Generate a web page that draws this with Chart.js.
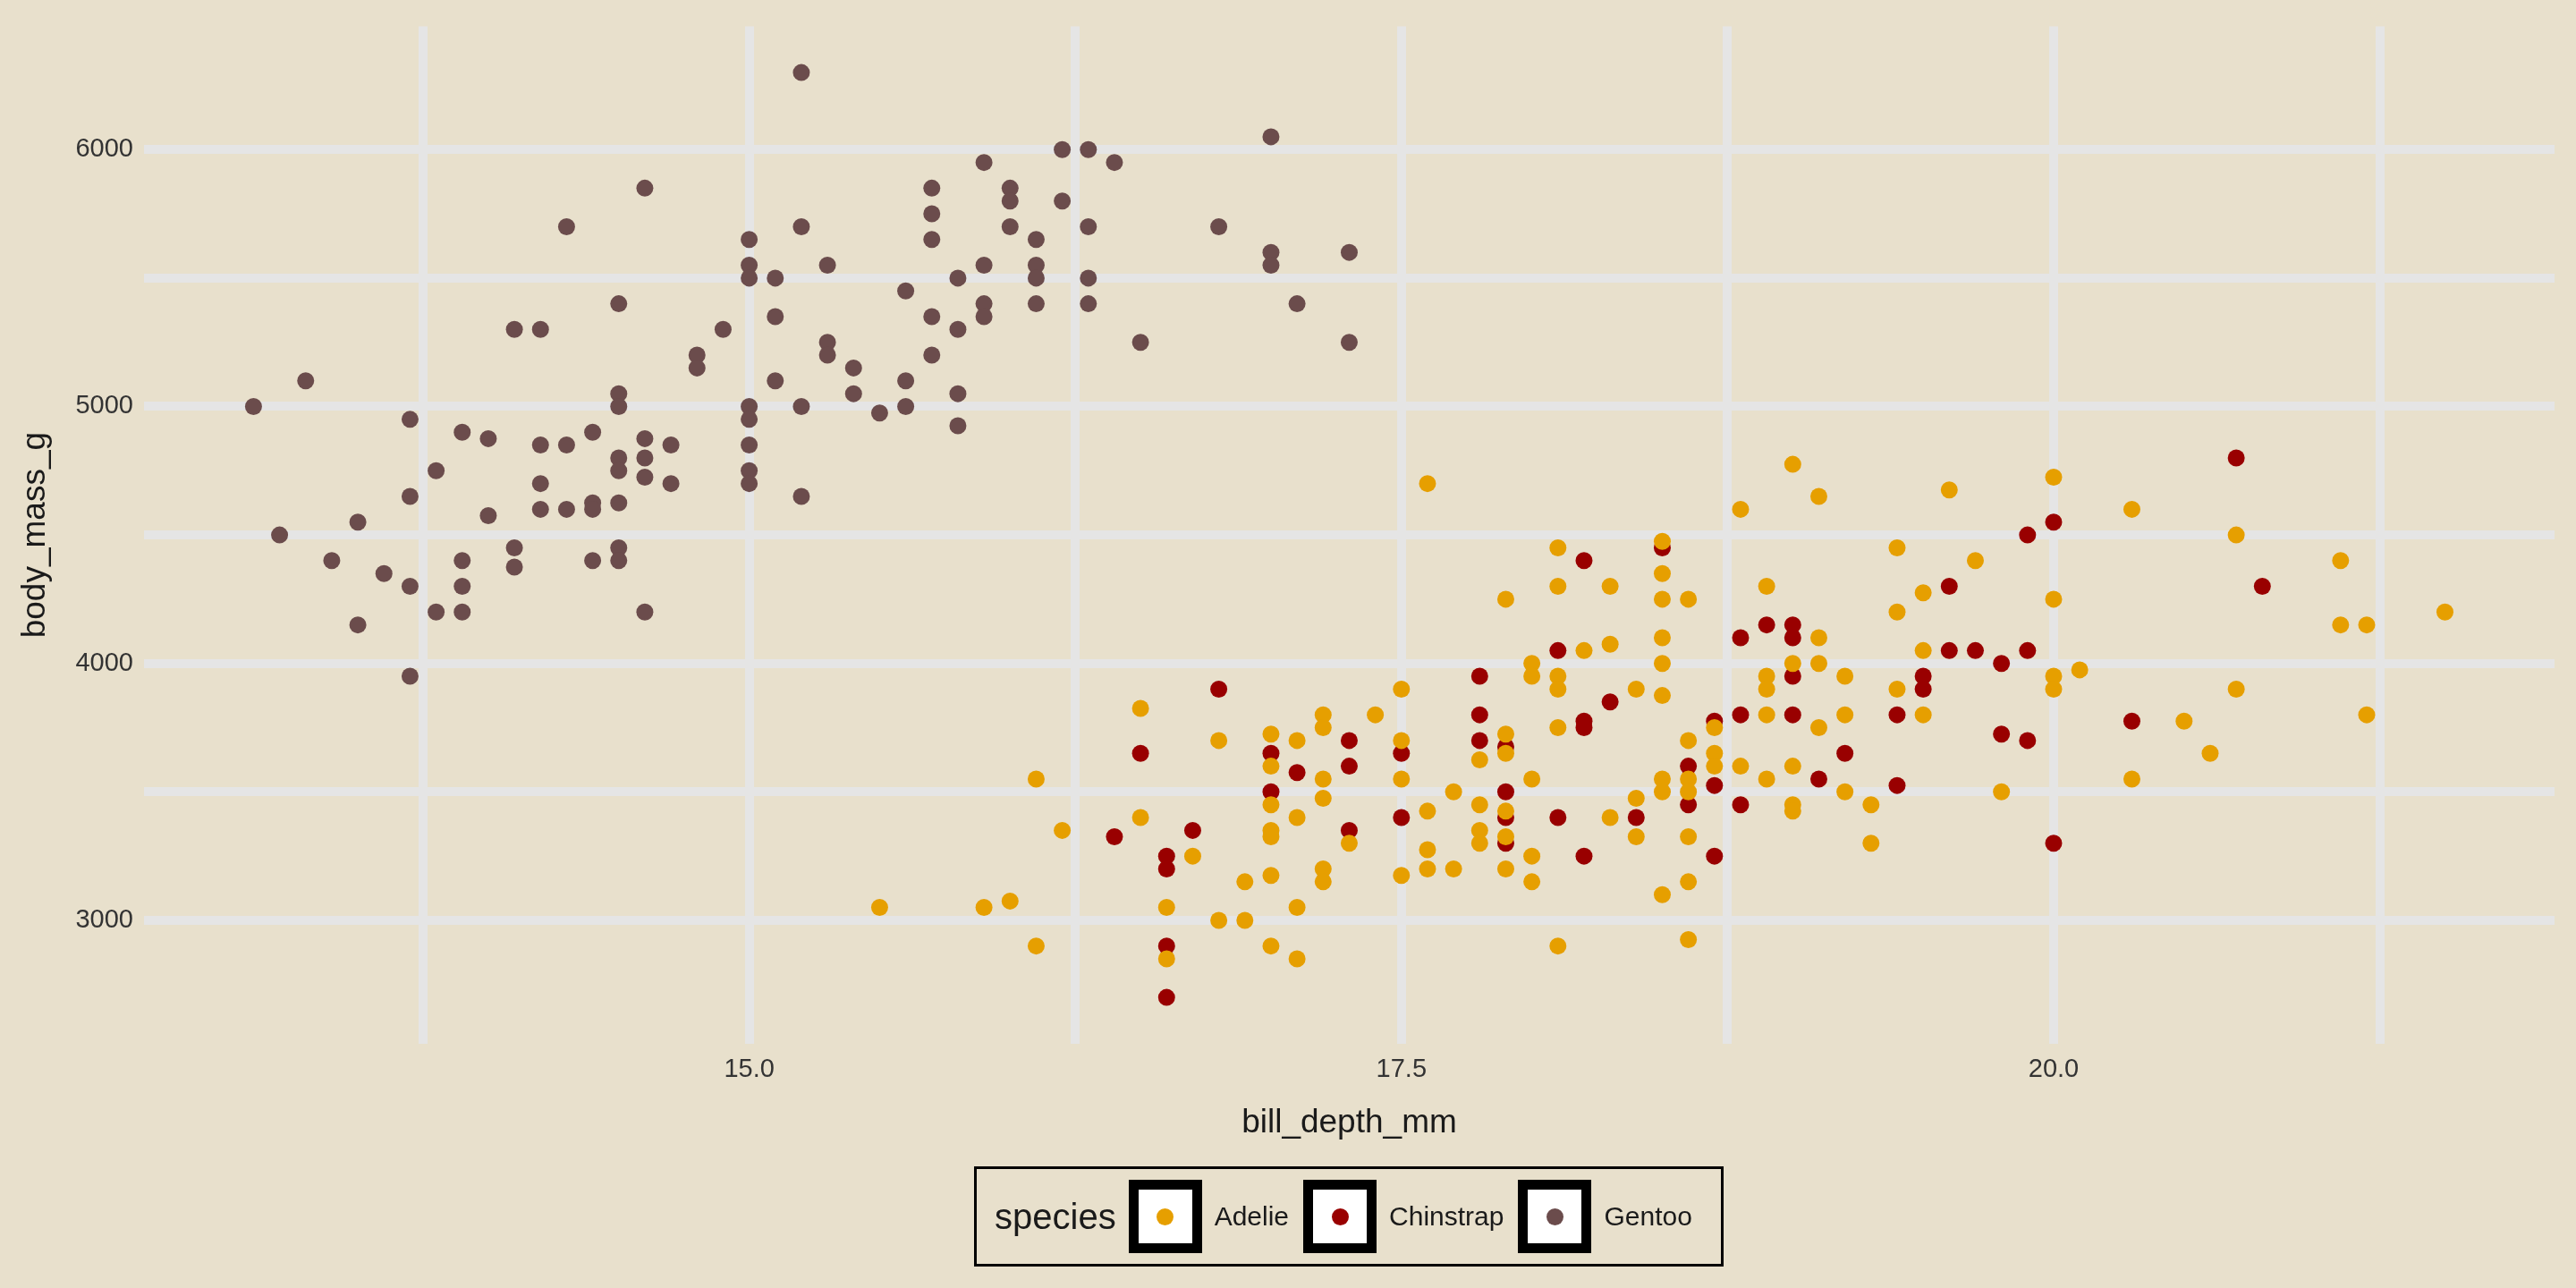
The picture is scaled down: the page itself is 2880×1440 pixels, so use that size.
<!DOCTYPE html>
<html lang="en">
  <head>
    <meta charset="utf-8" />
    <title>bill_depth_mm vs body_mass_g</title>
    <script src="https://cdn.jsdelivr.net/npm/chart.js/dist/chart.umd.min.js"></script>
    <style>
      * { margin: 0; padding: 0; font-family: "Liberation Sans", Arial, sans-serif; }
      body { background: #e8e0cc; }
      .chartBox { position: relative; width: 2880px; height: 1440px; }
      .legend {
        position: absolute; left: 1089px; top: 1304px; width: 838px; height: 112px;
        border: 3px solid #000; display: flex; align-items: center; box-sizing: border-box;
        padding-left: 20px; color: #1a1a1a;
      }
      .legend .title { font-size: 40px; margin-right: 14px; }
      .legend .key {
        width: 60px; height: 60px; border: 11px solid #000; background: #fff;
        display: flex; align-items: center; justify-content: center; margin-right: 14px;
      }
      .legend .dot { width: 19px; height: 19px; border-radius: 50%; }
      .legend .lab { font-size: 30px; margin-right: 16px; }
    </style>
  </head>
  <body>
    <div class="chartBox">
      <canvas id="myChart"></canvas>
      <div class="legend" id="legend"><span class="title">species</span></div>
    </div>

    <script>
      const species = ["Adelie", "Chinstrap", "Gentoo"];
      const colors = ["#e69f00", "#990000", "#6b4c4c"];
      const xTicks = [13.75, 15, 16.25, 17.5, 18.75, 20, 21.25];
      const xLabels = [15, 17.5, 20];
      const yTicks = [3000, 3500, 4000, 4500, 5000, 5500, 6000];
      const yLabels = [3000, 4000, 5000, 6000];

      const adelieDepth = [15.5,15.9,16.0,16.1,16.1,16.2,16.5,16.5,16.6,16.6,16.7,16.8,16.8,16.9,16.9,
        17.0,17.0,17.0,17.0,17.0,17.0,17.0,17.1,17.1,17.1,17.1,17.2,17.2,17.2,17.2,17.2,17.2,17.3,17.4,
        17.5,17.5,17.5,17.5,17.6,17.6,17.6,17.6,17.7,17.7,17.8,17.8,17.8,17.8,
        17.9,17.9,17.9,17.9,17.9,17.9,18.0,18.0,18.0,18.0,18.0,18.1,18.1,18.1,18.1,18.1,18.1,18.2,
        18.3,18.3,18.3,18.4,18.4,18.4,18.5,18.5,18.5,18.5,18.5,18.5,18.5,18.5,18.5,
        18.6,18.6,18.6,18.6,18.6,18.6,18.6,18.7,18.7,18.7,18.8,18.8,18.9,18.9,18.9,18.9,18.9,
        19.0,19.0,19.0,19.0,19.0,19.1,19.1,19.1,19.1,19.2,19.2,19.2,19.3,19.3,19.4,19.4,19.4,
        19.5,19.5,19.5,19.6,19.7,19.8,20.0,20.0,20.0,20.0,20.1,20.3,20.3,20.5,20.6,20.7,20.7,
        21.1,21.1,21.2,21.2,21.5];
      const adelieMass = [3050,3050,3075,3550,2900,3350,3825,3400,3050,2850,3250,3700,3000,3150,3000,
        3725,3600,3450,3350,3325,3175,2900,3700,3400,3050,2850,3800,3750,3550,3475,3200,3150,3300,3800,
        3900,3700,3550,3175,4700,3425,3275,3200,3500,3200,3625,3450,3350,3300,
        4250,3725,3650,3425,3325,3200,4000,3950,3550,3250,3150,4450,4300,3950,3900,3750,2900,4050,
        4300,4075,3400,3900,3475,3325,4475,4350,4250,4100,4000,3875,3550,3500,3100,
        4250,3700,3550,3500,3325,3150,2925,3750,3650,3600,4600,3600,4300,3950,3900,3800,3550,
        4775,4000,3600,3450,3425,4650,4100,4000,3750,3950,3800,3500,3450,3300,4450,4200,3900,
        4275,4050,3800,4675,4400,3500,4725,4250,3950,3900,3975,4600,3550,3775,3650,4500,3900,
        4400,4150,4150,3800,4200];

      const chinstrapDepth = [16.4,16.5,16.6,16.6,16.6,16.6,16.7,16.8,17.0,17.0,17.1,17.3,17.3,17.3,
        17.5,17.5,17.8,17.8,17.8,17.9,17.9,17.9,17.9,18.1,18.1,18.2,18.2,18.2,18.2,18.3,18.4,18.5,
        18.6,18.6,18.7,18.7,18.7,18.8,18.8,18.8,18.9,19.0,19.0,19.0,19.0,19.1,19.2,19.4,19.4,
        19.5,19.5,19.6,19.6,19.7,19.8,19.8,19.9,19.9,19.9,20.0,20.0,20.3,20.7,20.8];
      const chinstrapMass = [3325,3650,3250,3200,2900,2700,3350,3900,3650,3500,3575,3700,3600,3350,
        3650,3400,3950,3800,3700,3675,3500,3400,3300,4050,3400,4400,3775,3750,3250,3850,3400,4450,
        3600,3450,3775,3525,3250,4100,3800,3450,4150,4150,4100,3950,3800,3550,3650,3800,3525,
        3950,3900,4050,4300,4050,4000,3725,4500,4050,3700,4550,3300,3775,4800,4300];

      const gentooDepth = [13.1,13.2,13.3,13.4,13.5,13.5,13.6,13.7,13.7,13.7,13.7,13.8,13.8,
        13.9,13.9,13.9,13.9,14.0,14.0,14.1,14.1,14.1,14.2,14.2,14.2,14.2,14.3,14.3,14.3,
        14.4,14.4,14.4,14.4,14.5,14.5,14.5,14.5,14.5,14.5,14.5,14.5,14.6,14.6,14.6,14.6,14.6,
        14.7,14.7,14.8,14.8,14.9,15.0,15.0,15.0,15.0,15.0,15.0,15.0,15.0,15.1,15.1,15.1,
        15.2,15.2,15.2,15.2,15.3,15.3,15.3,15.4,15.4,15.5,15.6,15.6,15.6,15.7,15.7,15.7,15.7,15.7,
        15.8,15.8,15.8,15.8,15.9,15.9,15.9,15.9,16.0,16.0,16.0,16.1,16.1,16.1,16.1,16.2,16.2,
        16.3,16.3,16.3,16.3,16.4,16.5,16.8,17.0,17.0,17.0,17.1,17.3,17.3];
      const gentooMass = [5000,4500,5100,4400,4550,4150,4350,4950,4650,4300,3950,4200,4750,
        4900,4400,4300,4200,4875,4575,5300,4450,4375,5300,4850,4700,4600,5700,4850,4600,
        4900,4625,4600,4400,5400,5050,5000,4800,4750,4625,4450,4400,5850,4875,4800,4725,4200,
        4850,4700,5200,5150,5300,5650,5550,5500,5000,4950,4850,4750,4700,5500,5350,5100,
        6300,5700,5000,4650,5550,5250,5200,5150,5050,4975,5450,5100,5000,5850,5750,5650,5350,5200,
        5500,5300,5050,4925,5950,5550,5400,5350,5850,5800,5700,5650,5550,5500,5400,6000,5800,
        6000,5700,5500,5400,5950,5250,5700,6050,5600,5550,5400,5600,5250];

      const toPoints = (xs, ys) => xs.map((x, i) => ({ x: x, y: ys[i] }));
      const series = [
        toPoints(adelieDepth, adelieMass),
        toPoints(chinstrapDepth, chinstrapMass),
        toPoints(gentooDepth, gentooMass),
      ];

      const bgPlugin = {
        id: "bg",
        beforeDraw: function (chart) {
          const ctx = chart.ctx;
          ctx.save();
          ctx.fillStyle = "#e8e0cc";
          ctx.fillRect(0, 0, chart.width, chart.height);
          ctx.restore();
        },
      };

      const config = {
        type: "scatter",
        data: {
          datasets: species.map((s, i) => ({
            label: s,
            data: series[i],
            backgroundColor: colors[i],
            borderWidth: 0,
            pointRadius: 9.5,
          })),
        },
        options: {
          responsive: true,
          maintainAspectRatio: false,
          animation: false,
          layout: { padding: { top: 18, right: 24, bottom: 158, left: 14 } },
          plugins: { legend: { display: false }, tooltip: { enabled: false } },
          scales: {
            x: {
              min: 12.68,
              max: 21.92,
              afterBuildTicks: (axis) => { axis.ticks = xTicks.map((v) => ({ value: v })); },
              ticks: {
                color: "#333333",
                font: { size: 29 },
                padding: 12,
                autoSkip: false,
                maxRotation: 0,
                callback: (v) => (xLabels.includes(v) ? v.toFixed(1) : ""),
              },
              grid: { color: "#e5e5e5", lineWidth: 10, drawTicks: false },
              border: { display: false },
              title: { display: true, text: "bill_depth_mm", color: "#1a1a1a", font: { size: 37 }, padding: { top: 8 } },
            },
            y: {
              min: 2520,
              max: 6480,
              afterBuildTicks: (axis) => { axis.ticks = yTicks.map((v) => ({ value: v })); },
              ticks: {
                color: "#333333",
                font: { size: 29 },
                padding: 12,
                autoSkip: false,
                callback: (v) => (yLabels.includes(v) ? String(v) : ""),
              },
              grid: { color: "#e5e5e5", lineWidth: 10, drawTicks: false },
              border: { display: false },
              title: { display: true, text: "body_mass_g", color: "#1a1a1a", font: { size: 37 }, padding: { bottom: 10 } },
            },
          },
        },
        plugins: [bgPlugin],
      };

      new Chart(document.getElementById("myChart"), config);

      const legend = document.getElementById("legend");
      species.forEach((s, i) => {
        legend.innerHTML += `<span class="key"><span class="dot" style="background:${colors[i]}"></span></span><span class="lab">${s}</span>`;
      });
    </script>
  </body>
</html>
